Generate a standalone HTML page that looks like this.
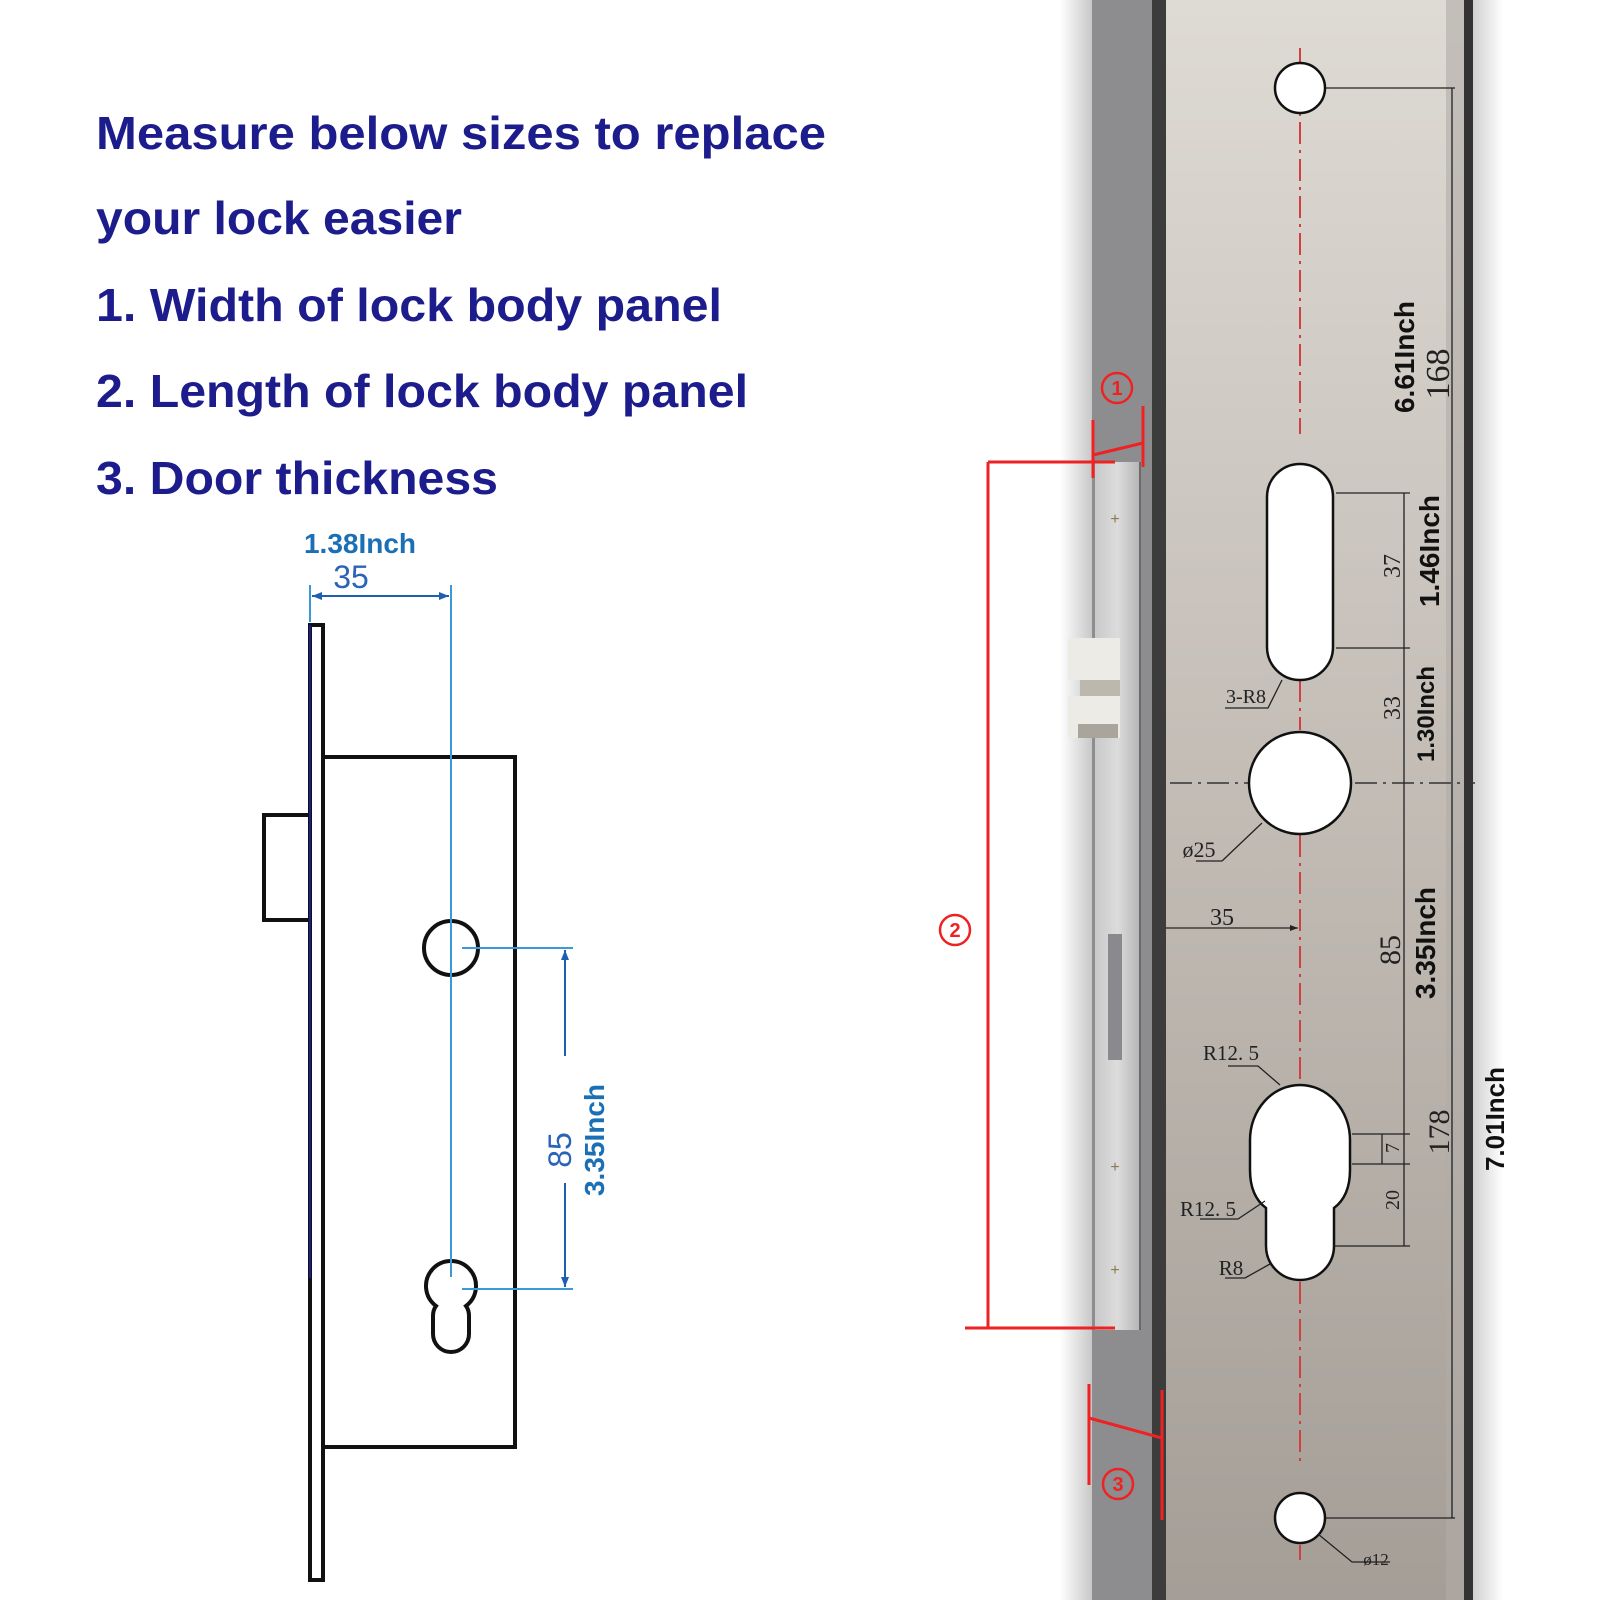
<!DOCTYPE html>
<html><head><meta charset="utf-8"><style>
html,body{margin:0;padding:0;background:#fff;}
svg{display:block;}
</style></head><body>
<svg width="1600" height="1600" viewBox="0 0 1600 1600" xmlns="http://www.w3.org/2000/svg">
<defs>
<linearGradient id="plate" x1="0" y1="0" x2="0" y2="1">
<stop offset="0" stop-color="#dedad4"/><stop offset="0.5" stop-color="#c2bcb5"/><stop offset="1" stop-color="#a49e97"/>
</linearGradient>
<linearGradient id="shadowL" x1="0" y1="0" x2="1" y2="0">
<stop offset="0" stop-color="#fff"/><stop offset="1" stop-color="#c8c8c8"/>
</linearGradient>
<linearGradient id="shadowR" x1="0" y1="0" x2="1" y2="0">
<stop offset="0" stop-color="#d0d0d0"/><stop offset="1" stop-color="#fff"/>
</linearGradient>
<linearGradient id="face" x1="0" y1="0" x2="1" y2="0">
<stop offset="0" stop-color="#c9c9c9"/><stop offset="0.5" stop-color="#dcdcdc"/><stop offset="1" stop-color="#b5b5b5"/>
</linearGradient>
<marker id="ab" markerWidth="10" markerHeight="8" refX="10" refY="4" orient="auto" markerUnits="userSpaceOnUse"><path d="M0,0 L10,4 L0,8 z" fill="#1f5fb0"/></marker>
<marker id="ak" markerWidth="8" markerHeight="6" refX="8" refY="3" orient="auto" markerUnits="userSpaceOnUse"><path d="M0,0 L8,3 L0,6 z" fill="#222"/></marker>
</defs>

<!-- Title -->
<g font-family="Liberation Sans, sans-serif" font-size="46" font-weight="bold" fill="#1c1c8c">
<text x="96" y="149" textLength="730" lengthAdjust="spacingAndGlyphs">Measure below sizes to replace</text>
<text x="96" y="234" textLength="366" lengthAdjust="spacingAndGlyphs">your lock easier</text>
<text x="96" y="321" textLength="626" lengthAdjust="spacingAndGlyphs">1. Width of lock body panel</text>
<text x="96" y="407" textLength="652" lengthAdjust="spacingAndGlyphs">2. Length of lock body panel</text>
<text x="96" y="494" textLength="402" lengthAdjust="spacingAndGlyphs">3. Door thickness</text>
</g>

<!-- Left drawing -->
<g fill="none" stroke="#111" stroke-width="4">
<rect x="310" y="625" width="13" height="955"/>
<path d="M323 757 H515 V1447 H323"/>
<path d="M310 815 H264 V920 H310"/>
<circle cx="451" cy="948" r="27"/>
<path d="M436 1306 A25 25 0 1 1 466 1306 Q469 1310 469 1316 V1334 A18 18 0 0 1 433 1334 V1316 Q433 1310 436 1306 Z"/>
</g>
<line x1="310" y1="625" x2="310" y2="1278" stroke="#1c1c8c" stroke-width="2"/>
<g stroke="#3a9ad8" stroke-width="2" fill="none">
<line x1="451" y1="585" x2="451" y2="1277"/>
<line x1="310" y1="585" x2="310" y2="622"/>
<line x1="462" y1="948" x2="573" y2="948"/>
<line x1="462" y1="1289" x2="573" y2="1289"/>
</g>
<g stroke="#1f5fb0" stroke-width="2">
<line x1="330" y1="596" x2="312" y2="596" marker-end="url(#ab)"/>
<line x1="330" y1="596" x2="449" y2="596" marker-end="url(#ab)"/>
<line x1="565" y1="1056" x2="565" y2="950" marker-end="url(#ab)"/>
<line x1="565" y1="1183" x2="565" y2="1287" marker-end="url(#ab)"/>
</g>
<g font-family="Liberation Sans, sans-serif" fill="#1a6fb5">
<text x="360" y="553" font-size="28" text-anchor="middle" font-weight="bold">1.38Inch</text>
<text x="351" y="588" font-size="32" text-anchor="middle" fill="#2a64b8">35</text>
<text transform="translate(571,1150) rotate(-90)" font-size="32" text-anchor="middle" fill="#2a64b8">85</text>
<text transform="translate(604,1140) rotate(-90)" font-size="28" font-weight="bold" text-anchor="middle">3.35Inch</text>
</g>

<!-- Right photo area -->
<rect x="1060" y="0" width="32" height="1600" fill="url(#shadowL)"/>
<rect x="1092" y="0" width="60" height="1600" fill="#8d8d90"/>
<rect x="1095" y="462" width="45" height="868" fill="url(#face)"/>
<line x1="1140" y1="462" x2="1140" y2="1330" stroke="#6a6a6a" stroke-width="2"/>
<rect x="1108" y="934" width="14" height="126" fill="#8a8a8e"/>
<!-- latch -->
<rect x="1068" y="638" width="52" height="42" fill="#ecebe6"/>
<rect x="1080" y="680" width="40" height="16" fill="#bdb8ae"/>
<rect x="1068" y="696" width="52" height="42" fill="#ecebe6"/>
<rect x="1078" y="724" width="40" height="14" fill="#a9a59d"/>
<g font-family="Liberation Sans, sans-serif" font-size="16" fill="#8a7a50" text-anchor="middle">
<text x="1115" y="524">+</text><text x="1115" y="1172">+</text><text x="1115" y="1275">+</text>
</g>
<rect x="1152" y="0" width="14" height="1600" fill="#3c3c3c"/>
<rect x="1166" y="0" width="298" height="1600" fill="url(#plate)"/>
<rect x="1446" y="0" width="18" height="1600" fill="#b0aca6" opacity="0.6"/>
<rect x="1464" y="0" width="9" height="1600" fill="#333"/>
<rect x="1473" y="0" width="30" height="1600" fill="url(#shadowR)"/>

<!-- center lines -->
<g stroke="#d04040" stroke-width="2" stroke-dasharray="22,6,3,6" fill="none">
<line x1="1300" y1="48" x2="1300" y2="434"/>
<line x1="1300" y1="680" x2="1300" y2="730"/>
<line x1="1300" y1="835" x2="1300" y2="1083"/>
<line x1="1300" y1="1282" x2="1300" y2="1465"/>
<line x1="1300" y1="1545" x2="1300" y2="1560"/>
</g>
<line x1="1170" y1="783" x2="1475" y2="783" stroke="#333" stroke-width="1.5" stroke-dasharray="22,6,3,6"/>

<!-- holes -->
<g fill="#fff" stroke="#111" stroke-width="2.5">
<circle cx="1300" cy="88" r="25"/>
<rect x="1267" y="464" width="66" height="216" rx="33"/>
<circle cx="1300" cy="783" r="51"/>
<path d="M1266 1208 Q1250 1196 1250 1170 V1140 A50 55 0 0 1 1350 1140 V1170 Q1350 1196 1334 1208 V1246 A34 34 0 0 1 1266 1246 Z"/>
<circle cx="1300" cy="1518" r="25"/>
</g>

<!-- black dims -->
<g stroke="#222" stroke-width="1.3" fill="none">
<line x1="1326" y1="88" x2="1455" y2="88"/>
<line x1="1326" y1="1518" x2="1455" y2="1518"/>
<line x1="1452" y1="88" x2="1452" y2="1518"/>
<line x1="1336" y1="493" x2="1410" y2="493"/>
<line x1="1336" y1="648" x2="1410" y2="648"/>
<line x1="1404" y1="493" x2="1404" y2="1246"/>
<line x1="1352" y1="1134" x2="1410" y2="1134"/>
<line x1="1352" y1="1164" x2="1410" y2="1164"/>
<line x1="1334" y1="1246" x2="1410" y2="1246"/>
<line x1="1382" y1="1134" x2="1382" y2="1164"/>
<line x1="1166" y1="928" x2="1298" y2="928" marker-end="url(#ak)"/>
<path d="M1222 861 H1196 M1222 861 L1262 823"/>
<path d="M1225 708 H1268 L1282 680"/>
<path d="M1228 1066 H1258 L1280 1085"/>
<path d="M1200 1219 H1238 L1265 1201"/>
<path d="M1225 1278 H1245 L1270 1264"/>
<path d="M1318 1534 L1352 1562 H1390"/>
</g>
<g font-family="Liberation Serif, serif" fill="#222" font-size="24">
<text x="1199" y="857" text-anchor="middle" font-size="22">ø25</text>
<text x="1222" y="925" text-anchor="middle">35</text>
<text x="1246" y="703" text-anchor="middle" font-size="20">3-R8</text>
<text x="1231" y="1060" text-anchor="middle" font-size="21">R12. 5</text>
<text x="1208" y="1216" text-anchor="middle" font-size="21">R12. 5</text>
<text x="1231" y="1275" text-anchor="middle" font-size="21">R8</text>
<text x="1376" y="1565" text-anchor="middle" font-size="17">ø12</text>
<text transform="translate(1400,566) rotate(-90)" text-anchor="middle">37</text>
<text transform="translate(1400,708) rotate(-90)" text-anchor="middle">33</text>
<text transform="translate(1400,950) rotate(-90)" text-anchor="middle" font-size="30">85</text>
<text transform="translate(1399,1148) rotate(-90)" text-anchor="middle" font-size="20">7</text>
<text transform="translate(1399,1200) rotate(-90)" text-anchor="middle" font-size="20">20</text>
<text transform="translate(1449,374) rotate(-90)" text-anchor="middle" font-size="34">168</text>
<text transform="translate(1449,1132) rotate(-90)" text-anchor="middle" font-size="30">178</text>
</g>
<g font-family="Liberation Sans, sans-serif" font-weight="bold" fill="#111" font-size="28">
<text transform="translate(1414,357) rotate(-90)" text-anchor="middle">6.61Inch</text>
<text transform="translate(1439,551) rotate(-90)" text-anchor="middle">1.46Inch</text>
<text transform="translate(1434,714) rotate(-90)" text-anchor="middle" font-size="24">1.30Inch</text>
<text transform="translate(1435,943) rotate(-90)" text-anchor="middle">3.35Inch</text>
<text transform="translate(1504,1119) rotate(-90)" text-anchor="middle" font-size="26">7.01Inch</text>
</g>

<!-- red annotations -->
<g stroke="#ee2222" stroke-width="3" fill="none">
<line x1="988" y1="462" x2="1115" y2="462"/>
<line x1="988" y1="462" x2="988" y2="1328"/>
<line x1="965" y1="1328" x2="1115" y2="1328"/>
<line x1="1093" y1="420" x2="1093" y2="478"/>
<line x1="1143" y1="406" x2="1143" y2="467"/>
<line x1="1093" y1="455" x2="1143" y2="443"/>
<line x1="1089" y1="1384" x2="1089" y2="1485"/>
<line x1="1162" y1="1390" x2="1162" y2="1520"/>
<line x1="1089" y1="1418" x2="1162" y2="1438"/>
<circle cx="1117" cy="388" r="15" stroke-width="2.5"/>
<circle cx="955" cy="930" r="15" stroke-width="2.5"/>
<circle cx="1118" cy="1484" r="15" stroke-width="2.5"/>
</g>
<g font-family="Liberation Sans, sans-serif" font-weight="bold" fill="#ee2222" font-size="20" text-anchor="middle">
<text x="1117" y="395">1</text><text x="955" y="937">2</text><text x="1118" y="1491">3</text>
</g>
</svg>
</body></html>
